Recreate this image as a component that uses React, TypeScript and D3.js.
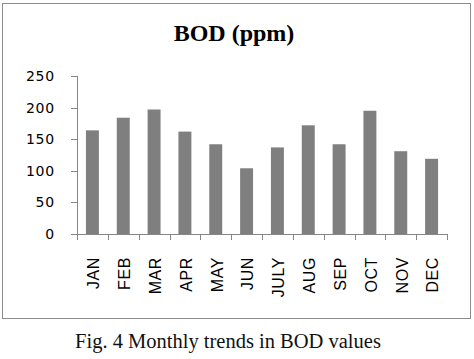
import React from "react";
import * as d3 from "d3";

const months = ["JAN", "FEB", "MAR", "APR", "MAY", "JUN", "JULY", "AUG", "SEP", "OCT", "NOV", "DEC"];
const bodValues = [164, 184, 197, 162, 142, 104, 137, 172, 142, 195, 131, 119];
const yTicks = [0, 50, 100, 150, 200, 250];
const title = "BOD (ppm)";
const caption = "Fig. 4 Monthly trends in BOD values";

const W = 474;
const H = 359;
const plot = { left: 77, right: 447, top: 76, bottom: 234 };
const axisColor = "#868686";
const barColor = "#7f7f7f";

export default function App() {
  const x = d3
    .scaleBand<string>()
    .domain(months)
    .range([plot.left, plot.right])
    .paddingInner(0.58)
    .paddingOuter(0.29);
  const y = d3.scaleLinear().domain([0, 250]).range([plot.bottom, plot.top]);
  const step = x.step();
  const boundaries = d3.range(months.length + 1).map((i) => plot.left + i * step);

  return (
    <svg
      width={W}
      height={H}
      style={{ position: "absolute", left: 0, top: 0, background: "#fff" }}
    >
      <rect x={0} y={0} width={W} height={H} fill="#fff" />
      <rect x={2.5} y={3.5} width={468} height={315} fill="#fff" stroke="#8c8c8c" strokeWidth={1} />
      <text
        x={234}
        y={41}
        textAnchor="middle"
        fontFamily="'Liberation Serif', serif"
        fontWeight="bold"
        fontSize={24}
        fill="#000"
      >
        {title}
      </text>

      {/* bars */}
      {months.map((m, i) => (
        <rect
          key={m}
          x={x(m)!}
          y={y(bodValues[i])}
          width={x.bandwidth()}
          height={y(0) - y(bodValues[i])}
          fill={barColor}
        />
      ))}

      {/* y axis */}
      <line x1={plot.left + 0.5} x2={plot.left + 0.5} y1={plot.top} y2={plot.bottom} stroke={axisColor} />
      {yTicks.map((t) => (
        <g key={t}>
          <line
            x1={plot.left - 6}
            x2={plot.left + 0.5}
            y1={Math.round(y(t)) + 0.5}
            y2={Math.round(y(t)) + 0.5}
            stroke={axisColor}
          />
          <text
            x={55}
            y={y(t) + 5}
            textAnchor="end"
            fontFamily="'DejaVu Sans', sans-serif"
            fontSize={14}
            letterSpacing={0.8}
            fill="#000"
          >
            {t}
          </text>
        </g>
      ))}

      {/* x axis */}
      <line x1={plot.left} x2={plot.right} y1={plot.bottom + 0.5} y2={plot.bottom + 0.5} stroke={axisColor} />
      {boundaries.map((bx, i) => (
        <line
          key={i}
          x1={Math.round(bx) + 0.5}
          x2={Math.round(bx) + 0.5}
          y1={plot.bottom}
          y2={plot.bottom + 6}
          stroke={axisColor}
        />
      ))}
      {months.map((m) => {
        const cx = x(m)! + x.bandwidth() / 2 + 1;
        return (
          <text
            key={m}
            transform={`translate(${cx},257) rotate(-90)`}
            textAnchor="end"
            dy="0.36em"
            fontFamily="'Liberation Sans', Arial, sans-serif"
            fontSize={16}
            letterSpacing={0.6}
            fill="#000"
          >
            {m}
          </text>
        );
      })}

      <text
        x={228}
        y={348}
        textAnchor="middle"
        fontFamily="'Liberation Serif', serif"
        fontSize={20.5}
        fill="#111"
      >
        {caption}
      </text>
    </svg>
  );
}
